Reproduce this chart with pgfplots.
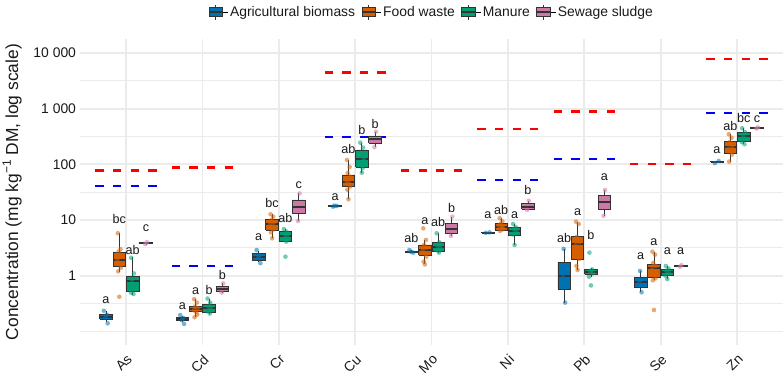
\documentclass[border=0pt]{standalone}
\usepackage{fontspec}
\setmainfont{Liberation Sans}
\usepackage{pgfplots}
\usepackage{pgfplotstable}
\pgfplotsset{compat=1.18}
\usetikzlibrary{calc}

\definecolor{cBlue}{HTML}{0072B2}
\definecolor{cOrange}{HTML}{D55E00}
\definecolor{cGreen}{HTML}{009E73}
\definecolor{cPink}{HTML}{CC79A7}
\definecolor{boxline}{HTML}{333333}
\definecolor{gridc}{HTML}{EBEBEB}
\definecolor{txt}{HTML}{1A1A1A}

% box: colour, position, lower whisker, Q1, median, Q3, upper whisker
\newcommand{\bx}[7]{%
  \pgfmathsetmacro{\xl}{#2-0.0825}\pgfmathsetmacro{\xr}{#2+0.0825}%
  \addplot[forget plot, draw=boxline, line width=0.8pt] coordinates {(#2,#3) (#2,#4)};
  \addplot[forget plot, draw=boxline, line width=0.8pt] coordinates {(#2,#6) (#2,#7)};
  \addplot[forget plot, fill=#1, draw=boxline, line width=0.8pt, line join=miter] coordinates {(\xl,#4) (\xr,#4) (\xr,#6) (\xl,#6) (\xl,#4)};
  \addplot[forget plot, draw=boxline, line width=2pt] coordinates {(\xl,#5) (\xr,#5)};
}
% threshold segment: colour, x from, x to, value
\newcommand{\thr}[4]{\addplot[forget plot, #1, line width=2.6pt, dash pattern=on 8.3pt off 9.3pt] coordinates {(#2,#4) (#3,#4)};}
% jittered observations
\newcommand{\pts}[2]{\addplot[forget plot, only marks, color=#1, mark=*, mark size=2.3pt, mark options={fill=#1, draw=none, draw opacity=0, fill opacity=0.55}] table {#2};}

\pgfplotsset{bxleg/.style={legend image code/.code={
  \path (0pt,0pt) -- (19pt,0pt);
  \draw[draw=boxline, line width=0.6pt] (6.75pt,-7.5pt) -- (6.75pt,7.5pt);
  \draw[draw=boxline, fill=#1, line width=0.6pt] (0pt,-4.6pt) rectangle (13.5pt,4.6pt);
  \draw[draw=boxline, line width=1.4pt] (0pt,0pt) -- (13.5pt,0pt);}}}

\pgfplotstableread{
x y
-0.29 0.235
-0.24 0.14
-0.27 0.18
-0.25 0.20
0.71 0.197
0.76 0.137
0.73 0.16
0.75 0.175
1.71 2.9
1.76 1.68
1.73 2.1
1.75 2.3
2.71 17.4
2.76 17.9
2.73 18.2
3.71 2.9
3.76 2.6
3.73 2.7
4.71 5.9
4.76 6.0
5.73 3.03
5.75 0.33
5.72 1.0
6.73 1.22
6.75 0.506
6.72 0.78
7.71 105
7.76 115
}\blue

\pgfplotstableread{
x y
-0.1075 5.8
-0.0725 3.0
-0.0975 2.7
-0.0625 2.3
-0.1125 1.9
-0.0775 1.6
-0.0675 1.4
-0.1025 1.2
-0.0875 0.42
0.8925 0.38
0.9275 0.33
0.9025 0.28
0.9375 0.26
0.8875 0.24
0.9225 0.22
0.9325 0.20
0.8975 0.18
1.8925 12.7
1.9275 11.5
1.9025 10
1.9375 9
1.8875 8.3
1.9225 7.5
1.9325 6.8
1.8975 6.0
1.9125 4.7
2.8925 120
2.9275 90
2.9025 70
2.9375 60
2.8875 50
2.9225 45
2.9325 40
2.8975 35
2.9125 23.6
3.8925 7.1
3.9275 4.4
3.9025 3.6
3.9375 3.2
3.8875 2.9
3.9225 2.5
3.9325 2.2
3.8975 1.79
3.9125 1.6
4.8925 10.8
4.9275 9.5
4.9025 8.5
4.9375 7.8
4.8875 7.5
4.9225 7.2
4.9325 6.8
4.8975 6.4
5.8925 9.36
5.9275 8.5
5.9025 5.0
5.9375 4.0
5.8875 3.5
5.9225 2.5
5.9325 2.0
5.8975 1.5
5.9125 1.27
6.8925 2.71
6.9275 2.4
6.9025 1.7
6.9375 1.5
6.8875 1.3
6.9225 1.1
6.9325 0.9
6.8975 0.83
6.9125 0.243
7.8925 347
7.9275 300
7.9025 250
7.9375 210
7.8875 190
7.9225 170
7.9325 150
7.8975 112
}\orange

\pgfplotstableread{
x y
0.0675 2.1
0.1025 1.1
0.0775 0.85
0.1125 0.7
0.0625 0.5
0.0975 0.47
1.0675 0.39
1.1025 0.33
1.0775 0.28
1.1125 0.25
1.0625 0.23
1.0975 0.21
2.0675 6.9
2.1025 6.2
2.0775 5.5
2.1125 5.0
2.0625 4.5
2.0975 4.1
2.0875 2.2
3.0675 245
3.1025 200
3.0775 160
3.1125 120
3.0625 100
3.0975 85
3.0875 71
4.0675 5.8
4.1025 4.0
4.0775 3.5
4.1125 3.2
4.0625 2.9
4.0975 2.6
5.0675 8.5
5.1025 7.5
5.0775 6.8
5.1125 6.2
5.0625 5.5
5.0875 3.57
6.0675 2.6
6.1025 1.3
6.0775 1.2
6.1125 1.1
6.0625 0.96
6.0875 0.67
7.0675 1.5
7.1025 1.35
7.0775 1.2
7.1125 1.1
7.0625 1.0
7.0875 0.87
8.0675 445
8.1025 380
8.0775 330
8.1125 290
8.0625 250
8.0975 230
}\green

\pgfplotstableread{
x y
0.2725 4.0
0.2525 3.7
1.2725 0.73
1.2525 0.50
2.2725 30
2.2525 9.6
3.2725 385
3.2525 203
4.2725 11.5
4.2525 5.2
5.2725 22.3
5.2525 15.2
6.2725 34.7
6.2525 11.9
7.2725 1.55
7.2525 1.45
8.2725 460
8.2525 440
}\pink

\pgfplotstableread{
x y lab
-0.2625 0.368 a
-0.0875 10.45 bc
0.0875 2.9 ab
0.2625 7.2 c
0.7375 0.279 a
0.9125 0.533 a
1.0875 0.556 b
1.2625 1.03 b
1.7375 5.03 a
1.9125 20 bc
2.0875 10.8 ab
2.2625 42.7 c
2.7375 25.7 a
2.9125 187 ab
3.0875 415 b
3.2625 531 b
3.7375 4.83 ab
3.9125 9.36 a
4.0875 9.36 ab
4.2625 16.3 b
4.7375 12.4 a
4.9125 15.2 ab
5.0875 12.4 a
5.2625 34.7 b
5.7375 4.83 ab
5.9125 13.8 a
6.0875 5.4 b
6.2625 58.7 a
6.7375 2.27 a
6.9125 3.93 a
7.0875 2.71 a
7.2625 2.71 a
7.7375 181 a
7.9125 489 ab
8.0875 673 bc
8.2625 653 c
}\letters

\begin{document}
\begin{tikzpicture}
\begin{axis}[name=ax,
  scale only axis, width=702.65pt, height=306.4pt,
  xmin=-0.6, xmax=8.6,
  ymode=log, ymin=0.056234, ymax=17782.8,
  axis line style={draw=none},
  major tick length=0pt, minor tick length=0pt,
  tick style={draw=none},
  xtick={0,1,2,3,4,5,6,7,8},
  xticklabels={As,Cd,Cr,Cu,Mo,Ni,Pb,Se,Zn},
  ytick={1,10,100,1000,10000},
  yticklabels={1,10,100,1 000,10 000},
  minor ytick={0.1,0.31623,3.1623,31.623,316.23,3162.3},
  xmajorgrids, ymajorgrids, yminorgrids,
  major grid style={draw=gridc, line width=1.8pt},
  minor grid style={draw=gridc, line width=0.9pt},
  xticklabel style={rotate=45, anchor=north east, inner sep=0pt, text=txt,
    font=\fontsize{13.9}{16}\selectfont},
  xticklabel shift=8pt,
  yticklabel style={anchor=east, inner sep=0pt, text=txt,
    font=\fontsize{13.9}{16}\selectfont},
  yticklabel shift=4pt,
  ylabel={Concentration (mg kg\raisebox{0.8ex}{\fontsize{12}{12}\selectfont −1} DM, log scale)},
  ylabel style={at={(axis description cs:-0.0968,0.5)}, anchor=center, inner sep=0pt,
    text=txt, font=\fontsize{17.4}{20}\selectfont},
  legend columns=4,
  legend style={at={(0.5,1.0881)}, anchor=center, draw=none, fill=none,
    font=\fontsize{13.9}{16}\selectfont, text=txt,
    /tikz/every even column/.append style={column sep=4pt}},
  clip=false,
]
\addlegendimage{bxleg=cBlue}\addlegendentry{Agricultural biomass}
\addlegendimage{bxleg=cOrange}\addlegendentry{Food waste}
\addlegendimage{bxleg=cGreen}\addlegendentry{Manure}
\addlegendimage{bxleg=cPink}\addlegendentry{Sewage sludge}

% thresholds (red and blue dashed)
\thr{red}{-0.4}{0.4}{78}
\thr{red}{0.6}{1.4}{88}
\thr{red}{2.6}{3.4}{4500}
\thr{red}{3.6}{4.4}{78}
\thr{red}{4.6}{5.4}{430}
\thr{red}{5.6}{6.4}{880}
\thr{red}{6.6}{7.4}{102}
\thr{red}{7.6}{8.4}{7800}
\thr{blue}{-0.4}{0.4}{41}
\thr{blue}{0.6}{1.4}{1.5}
\thr{blue}{2.6}{3.4}{310}
\thr{blue}{4.6}{5.4}{52}
\thr{blue}{5.6}{6.4}{125}
\thr{blue}{7.6}{8.4}{840}

% Agricultural biomass
\bx{cBlue}{-0.2625}{0.15}{0.168}{0.184}{0.205}{0.23}
\bx{cBlue}{0.7375}{0.145}{0.156}{0.168}{0.18}{0.19}
\bx{cBlue}{1.7375}{1.75}{1.92}{2.2}{2.54}{2.8}
\bx{cBlue}{2.7375}{17.4}{17.6}{17.9}{18.1}{18.3}
\bx{cBlue}{3.7375}{2.6}{2.65}{2.71}{2.76}{2.85}
\bx{cBlue}{4.7375}{5.8}{5.88}{5.94}{6.0}{6.05}
\bx{cBlue}{5.7375}{0.33}{0.573}{1.0}{1.75}{3.03}
\bx{cBlue}{6.7375}{0.506}{0.62}{0.78}{0.92}{1.22}
\bx{cBlue}{7.7375}{105}{110}{112}{114}{116}
% Food waste
\bx{cOrange}{-0.0875}{1.18}{1.5}{1.92}{2.64}{5.8}
\bx{cOrange}{0.9125}{0.18}{0.227}{0.253}{0.279}{0.38}
\bx{cOrange}{1.9125}{4.7}{6.6}{8.4}{10.3}{12.7}
\bx{cOrange}{2.9125}{23.6}{41}{49}{64.5}{120}
\bx{cOrange}{3.9125}{1.6}{2.36}{2.9}{3.57}{4.4}
\bx{cOrange}{4.9125}{6.35}{6.64}{7.6}{8.77}{10.8}
\bx{cOrange}{5.9125}{1.27}{2.0}{3.72}{5.03}{9.36}
\bx{cOrange}{6.9125}{0.83}{0.94}{1.36}{1.61}{2.71}
\bx{cOrange}{7.9125}{112}{154}{208}{256}{347}
% Manure
\bx{cGreen}{0.0875}{0.45}{0.52}{0.82}{0.96}{2.15}
\bx{cGreen}{1.0875}{0.204}{0.218}{0.26}{0.3}{0.39}
\bx{cGreen}{2.0875}{4.1}{4.1}{5.18}{6.19}{6.9}
\bx{cGreen}{3.0875}{71}{89}{124}{181}{245}
\bx{cGreen}{4.0875}{2.54}{2.71}{3.33}{3.93}{5.8}
\bx{cGreen}{5.0875}{3.57}{5.4}{6.45}{7.3}{8.5}
\bx{cGreen}{6.0875}{0.96}{1.06}{1.19}{1.32}{1.4}
\bx{cGreen}{7.0875}{0.87}{1.0}{1.16}{1.31}{1.5}
\bx{cGreen}{8.0875}{230}{255}{318}{380}{445}
% Sewage sludge
\bx{cPink}{0.2625}{3.7}{3.75}{3.85}{3.95}{4.0}
\bx{cPink}{1.2625}{0.5}{0.527}{0.58}{0.637}{0.73}
\bx{cPink}{2.2625}{9.6}{12.9}{17}{23}{30}
\bx{cPink}{3.2625}{203}{239}{282}{324}{385}
\bx{cPink}{4.2625}{5.2}{5.8}{6.8}{8.8}{11.5}
\bx{cPink}{5.2625}{15.2}{15.8}{17.4}{19.5}{22.3}
\bx{cPink}{6.2625}{11.9}{15.8}{20.9}{27.4}{34.7}
\bx{cPink}{7.2625}{1.45}{1.48}{1.5}{1.52}{1.55}
\bx{cPink}{8.2625}{435}{442}{450}{458}{465}

\pts{cBlue}{\blue}
\pts{cOrange}{\orange}
\pts{cGreen}{\green}
\pts{cPink}{\pink}

% significance letters
\addplot[forget plot, only marks, mark=none, nodes near coords, point meta=explicit symbolic,
  nodes near coords style={anchor=center, inner sep=0pt, text=txt, font=\fontsize{12.6}{14}\selectfont}]
  table[meta=lab] {\letters};
\end{axis}
\pgfresetboundingbox
\path ($(ax.south west)+(-80.2pt,-29.6pt)$) rectangle ($(ax.south west)+(703.8pt,345.4pt)$);
\end{tikzpicture}
\end{document}
